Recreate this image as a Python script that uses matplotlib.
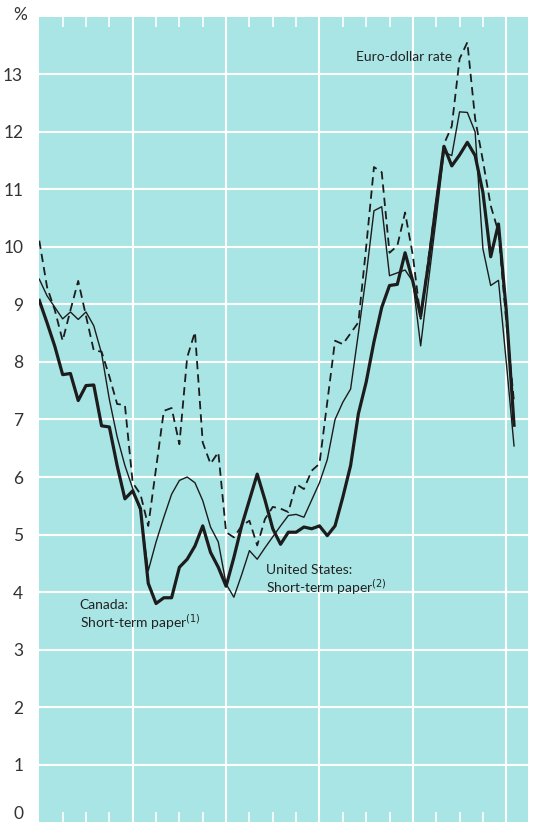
import numpy as np
import matplotlib.pyplot as plt
from matplotlib.ticker import FixedLocator

# Monthly short-term rates, Jan 1970 onwards (per cent)
canada = [9.07, 8.68, 8.27, 7.78, 7.8, 7.33, 7.59, 7.6, 6.89, 6.87,
          6.2, 5.62, 5.76, 5.45, 4.15, 3.8, 3.9, 3.9, 4.43, 4.57,
          4.8, 5.15, 4.69, 4.43, 4.1, 4.6, 5.15, 5.6, 6.05, 5.6,
          5.1, 4.83, 5.04, 5.04, 5.13, 5.1, 5.15, 4.98, 5.15, 5.65,
          6.2, 7.1, 7.65, 8.35, 8.95, 9.33, 9.35, 9.9, 9.4, 8.8,
          9.7, 10.75, 11.75, 11.41, 11.6, 11.82, 11.59, 10.95, 9.83, 10.4,
          8.9, 6.9]

united_states = [9.44, 9.15, 8.95, 8.75, 8.87, 8.74, 8.87, 8.63, 8.15, 7.35,
                 6.7, 6.2, 5.8, 5.4, 4.37, 4.87, 5.3, 5.7, 5.94, 6.0,
                 5.9, 5.59, 5.13, 4.87, 4.14, 3.91, 4.3, 4.72, 4.57, 4.77,
                 4.96, 5.15, 5.33, 5.35, 5.3, 5.6, 5.9, 6.3, 7.0, 7.3,
                 7.53, 8.5, 9.5, 10.63, 10.7, 9.5, 9.55, 9.6, 9.4, 8.28,
                 9.4, 10.5, 11.65, 11.59, 12.35, 12.34, 12.0, 9.97, 9.33, 9.42,
                 8.0, 6.54]

euro_dollar = [10.11, 9.3, 8.9, 8.37, 8.9, 9.41, 8.8, 8.2, 8.18, 7.75,
               7.27, 7.25, 5.9, 5.7, 5.15, 6.15, 7.15, 7.2, 6.57, 8.08,
               8.52, 6.6, 6.23, 6.43, 5.04, 4.95, 5.15, 5.24, 4.81, 5.27,
               5.48, 5.45, 5.39, 5.88, 5.79, 6.11, 6.23, 7.3, 8.37, 8.31,
               8.5, 8.69, 10.0, 11.39, 11.3, 9.9, 10.02, 10.6, 9.85, 8.75,
               9.8, 10.8, 11.79, 12.1, 13.27, 13.56, 12.23, 11.5, 10.72, 10.26,
               8.7, 7.3]

y_ticks = list(range(0, 14))
year_starts = [12, 24, 36, 48, 60]
quarters = [q for q in range(3, 63, 3) if q % 12 != 0]

bg = "#a9e5e4"
ink = "#1c1c1c"

fig = plt.figure(figsize=(5.35, 8.24), dpi=100)
ax = fig.add_axes([0.072, 0.0024, 0.915, 0.977])
ax.set_facecolor(bg)

months = np.arange(len(canada))
ax.plot(months, euro_dollar, color=ink, lw=1.3, dashes=(4.6, 2.8))
ax.plot(months, united_states, color=ink, lw=1.0)
ax.plot(months, canada, color=ink, lw=2.3)

ax.set_xlim(-0.1, 62.8)
ax.set_ylim(0, 14.0)

# white grid: years vertically, whole per cent horizontally
for x in year_starts:
    ax.axvline(x, color="white", lw=1.5, zorder=0.5)
for y in y_ticks[1:]:
    ax.axhline(y, color="white", lw=1.5, zorder=0.5)

ax.xaxis.set_major_locator(FixedLocator([]))
ax.xaxis.set_minor_locator(FixedLocator(quarters))
ax.tick_params(axis="x", which="minor", direction="in", length=7, width=1.2,
               color="white", top=True, bottom=True, labelbottom=False)

ax.set_yticks(y_ticks)
ax.set_yticklabels([str(v) for v in y_ticks], fontsize=12.5, color="#333333",
                   family="Lato")
ax.tick_params(axis="y", length=0, pad=11)
for s in ax.spines.values():
    s.set_visible(False)
# keep the zero label inside the bottom edge
ax.get_yticklabels()[0].set_verticalalignment("bottom")

fig.text(0.037, 0.982, "%", fontsize=12.5, color="#333333", family="Lato",
         ha="center", va="center")

lab = dict(fontsize=10, color="#222222", family="Lato")
ax.text(53.0, 13.3, "Euro-dollar rate", ha="right", va="center", **lab)
ax.text(5.2, 3.78, "Canada:", ha="left", va="center", **lab)
ax.text(5.2, 3.48, "Short-term paper$^{(1)}$", ha="left", va="center", **lab)
ax.text(29.1, 4.39, "United States:", ha="left", va="center", **lab)
ax.text(29.1, 4.08, "Short-term paper$^{(2)}$", ha="left", va="center", **lab)

fig.savefig("out.png", dpi=100, facecolor="white")
